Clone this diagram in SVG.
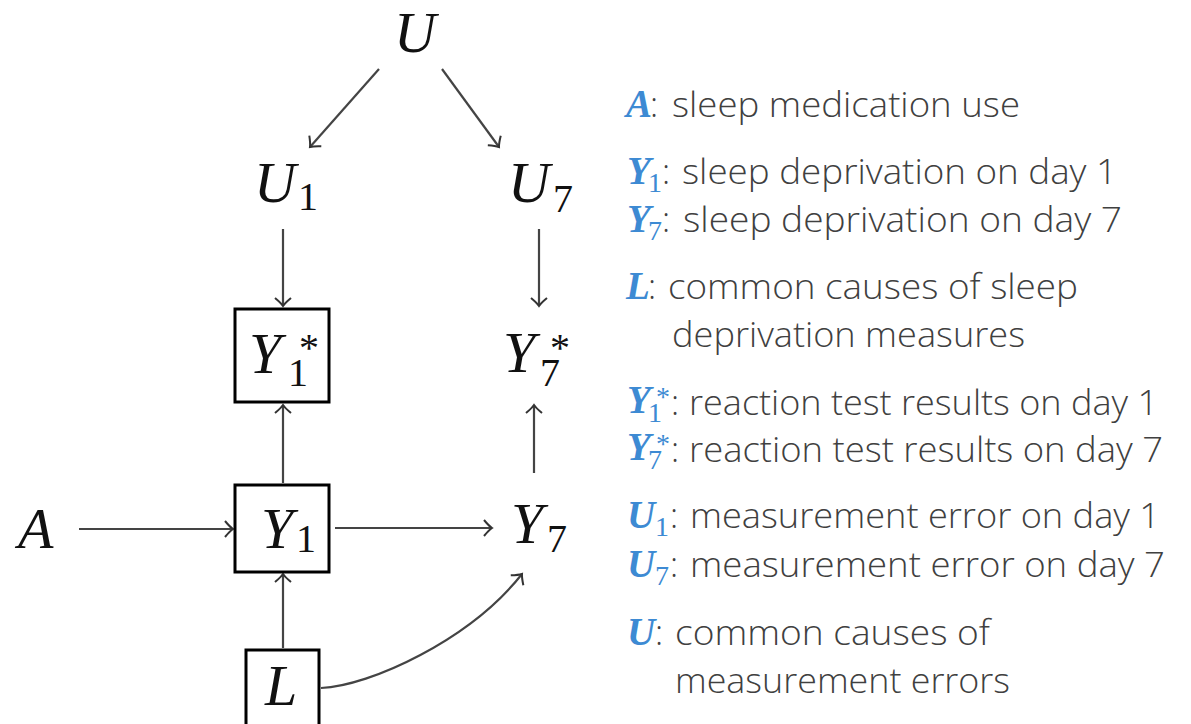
<svg xmlns="http://www.w3.org/2000/svg" width="1191" height="724" viewBox="0 0 1191 724">
<style>
.m{font-family:"Liberation Serif","Times New Roman",serif;font-style:italic;font-size:58px;fill:#111}
.ms{font-style:normal;font-size:40px}
.edge{stroke:#444;stroke-width:2.2;fill:none;marker-end:url(#ah)}
.box{fill:none;stroke:#000;stroke-width:3}
.v{font-family:"Liberation Serif","Times New Roman",serif;font-style:italic;font-weight:bold;font-size:39px;fill:#3d8ad3}
.vs{font-style:normal;font-weight:normal;font-size:28px}
.t{font-family:"Open Sans","Noto Sans",sans-serif;font-weight:300;font-size:34px;fill:#404040}
</style>
<defs>
<marker id="ah" markerUnits="userSpaceOnUse" markerWidth="24" markerHeight="24" viewBox="-12 -12 24 24" refX="0" refY="0" orient="auto" overflow="visible">
<path d="M-8,-8 Q-3,-2 0,0 Q-3,2 -8,8" fill="none" stroke="#333" stroke-width="2"/>
</marker>
</defs>
<rect width="1191" height="724" fill="#fff"/>
<g id="connectors">
<path class="edge" d="M379,69 L310,147"/>
<path class="edge" d="M442,69 L499,147"/>
<path class="edge" d="M283,229 L283,306"/>
<path class="edge" d="M539,229 L539,306"/>
<path class="edge" d="M283,483 L283,405"/>
<path class="edge" d="M534,473 L534,405"/>
<path class="edge" d="M79,529 L233,529"/>
<path class="edge" d="M335,528 L492,528"/>
<path class="edge" d="M283,648 L283,574"/>
<path class="edge" d="M321,688 C370,686 470,640 522,574"/>
</g>
<g id="node-U"><text class="m" x="394" y="52">U</text></g>
<g id="node-U1"><text class="m" x="254" y="202">U<tspan class="ms" x="298" dy="8">1</tspan></text></g>
<g id="node-U7"><text class="m" x="508" y="202">U<tspan class="ms" x="553" dy="10">7</tspan></text></g>
<g id="node-Y1star"><rect class="box" x="235" y="309" width="94" height="93"/><text class="m" x="249" y="373">Y<tspan class="ms" x="299" dy="-12">*</tspan><tspan class="ms" x="288" y="386">1</tspan></text></g>
<g id="node-Y7star"><text class="m" x="503" y="372">Y<tspan class="ms" x="550" dy="-11">*</tspan><tspan class="ms" x="540" y="386">7</tspan></text></g>
<g id="node-Y1"><rect class="box" x="235" y="485" width="94" height="87"/><text class="m" x="261" y="548">Y<tspan class="ms" x="296" y="552">1</tspan></text></g>
<g id="node-Y7"><text class="m" x="511" y="543">Y<tspan class="ms" x="547" y="552">7</tspan></text></g>
<g id="node-A"><text class="m" x="18" y="548">A</text></g>
<g id="node-L"><rect class="box" x="246" y="650" width="73" height="80"/><text class="m" x="265" y="705">L</text></g>
<g id="legend">
<text x="626" y="117"><tspan class="v">A</tspan><tspan class="t" x="650">:</tspan><tspan class="t" x="672" textLength="348" lengthAdjust="spacingAndGlyphs">sleep medication use</tspan></text>
<text x="627" y="184"><tspan class="v">Y</tspan><tspan class="v vs" x="648" dy="8">1</tspan><tspan class="t" x="662" dy="-8">:</tspan><tspan class="t" x="682" textLength="435" lengthAdjust="spacingAndGlyphs">sleep deprivation on day 1</tspan></text>
<text x="627" y="232"><tspan class="v">Y</tspan><tspan class="v vs" x="648" dy="8">7</tspan><tspan class="t" x="662" dy="-8">:</tspan><tspan class="t" x="683" textLength="439" lengthAdjust="spacingAndGlyphs">sleep deprivation on day 7</tspan></text>
<text x="626" y="299"><tspan class="v">L</tspan><tspan class="t" x="648">:</tspan><tspan class="t" x="668" textLength="410" lengthAdjust="spacingAndGlyphs">common causes of sleep</tspan></text>
<text class="t" x="672" y="347" textLength="353" lengthAdjust="spacingAndGlyphs">deprivation measures</text>
<text x="627" y="413"><tspan class="v">Y</tspan><tspan class="v vs" x="656" dy="-7">*</tspan><tspan class="v vs" x="648" dy="16">1</tspan><tspan class="t" x="671" dy="-7">:</tspan><tspan class="t" x="689" textLength="469" lengthAdjust="spacingAndGlyphs">reaction test results on day 1</tspan></text>
<text x="627" y="460"><tspan class="v">Y</tspan><tspan class="v vs" x="656" dy="-7">*</tspan><tspan class="v vs" x="648" dy="16">7</tspan><tspan class="t" x="671" dy="-7">:</tspan><tspan class="t" x="689" textLength="474" lengthAdjust="spacingAndGlyphs">reaction test results on day 7</tspan></text>
<text x="627" y="528"><tspan class="v">U</tspan><tspan class="v vs" x="655" dy="8">1</tspan><tspan class="t" x="670" dy="-8">:</tspan><tspan class="t" x="690" textLength="470" lengthAdjust="spacingAndGlyphs">measurement error on day 1</tspan></text>
<text x="627" y="577"><tspan class="v">U</tspan><tspan class="v vs" x="655" dy="8">7</tspan><tspan class="t" x="670" dy="-8">:</tspan><tspan class="t" x="690" textLength="475" lengthAdjust="spacingAndGlyphs">measurement error on day 7</tspan></text>
<text x="627" y="645"><tspan class="v">U</tspan><tspan class="t" x="655">:</tspan><tspan class="t" x="675" textLength="315" lengthAdjust="spacingAndGlyphs">common causes of</tspan></text>
<text class="t" x="675" y="693" textLength="335" lengthAdjust="spacingAndGlyphs">measurement errors</text>
</g>
</svg>
